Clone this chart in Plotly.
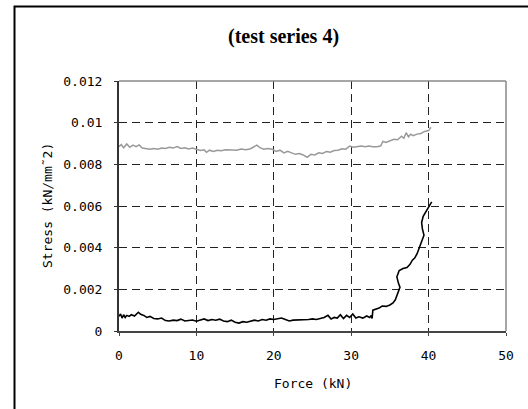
import plotly.graph_objects as go

# ---- data ----
force_gray = [0, 0.3, 0.6, 1.0, 1.4, 1.8, 2.2, 2.6, 3.0, 3.5, 4.0, 4.5, 5.0, 5.5, 6.0, 6.5, 7.0, 7.5, 8.0, 8.5,
              9.0, 9.5, 10.0, 10.5, 11.0, 11.3, 11.7, 12.2, 12.7, 13.2, 13.8, 14.5, 15.2, 15.8, 16.4, 17.0, 17.4,
              17.8, 18.2, 18.7, 19.2, 19.8, 20.3, 20.8, 21.3, 21.8, 22.3, 22.8, 23.3, 23.8, 24.3, 24.8, 25.3,
              25.8, 26.3, 26.8, 27.3, 27.8, 28.3, 28.8, 29.3, 29.8, 30.3, 30.8, 31.3, 31.8, 32.3, 32.8, 33.3,
              33.8, 34.1, 34.5, 35.0, 35.5, 36.0, 36.5, 36.8, 37.1, 37.4, 37.7, 38.0, 38.5, 39.0, 39.5, 40.0, 40.3]
stress_gray = [0.00885, 0.00895, 0.0088, 0.00898, 0.00882, 0.00892, 0.00885, 0.00893, 0.00878, 0.00874,
               0.00872, 0.00876, 0.00873, 0.00878, 0.00876, 0.00882, 0.00878, 0.00885, 0.00876, 0.0088,
               0.00874, 0.00878, 0.00873, 0.00866, 0.0087, 0.00858, 0.00868, 0.00862, 0.00868, 0.00865,
               0.0087, 0.0087, 0.00868, 0.00874, 0.0087, 0.00875, 0.00882, 0.00892, 0.0088, 0.00873,
               0.00876, 0.00872, 0.00862, 0.00868, 0.00855, 0.00862, 0.00855, 0.00848, 0.00852, 0.00845,
               0.00834, 0.00848, 0.00845, 0.00855, 0.00852, 0.00862, 0.00858, 0.00866, 0.00868, 0.00875,
               0.00873, 0.00888, 0.00882, 0.00885, 0.00888, 0.00884, 0.00888, 0.00885, 0.00884, 0.00888,
               0.0091, 0.00905, 0.00912, 0.0092, 0.00918, 0.00935, 0.00925, 0.00952, 0.00932, 0.00945,
               0.00938, 0.00945, 0.00948, 0.00958, 0.00962, 0.00978]

force_black = [0, 0.2, 0.4, 0.6, 0.8, 1.0, 1.3, 1.6, 2.0, 2.5, 2.8, 3.2, 3.6, 4.0, 4.5, 5.0, 5.5, 6.0, 6.5, 7.0,
               7.5, 8.0, 8.5, 9.0, 9.5, 10.0, 10.5, 11.0, 11.5, 12.0, 12.5, 13.0, 13.5, 14.0, 14.5, 15.0, 15.5,
               16.0, 16.5, 17.0, 17.5, 18.0, 18.5, 19.0, 19.5, 20.0, 20.5, 21.0, 21.5, 22.0, 22.5, 23.0, 23.5,
               24.0, 24.5, 25.0, 25.5, 26.0, 26.5, 27.0, 27.4, 27.8, 28.2, 28.6, 29.0, 29.4, 29.8, 30.2, 30.6,
               31.0, 31.5, 32.0, 32.4, 32.6, 32.7, 32.8, 33.2, 33.6, 34.0, 34.5, 35.0, 35.4, 35.7, 35.9, 36.1,
               36.3, 36.1, 35.9, 36.2, 36.7, 37.2, 37.6, 37.9, 38.2, 38.5, 38.8, 39.1, 39.4, 39.2, 39.1, 39.3,
               39.6, 39.9, 40.1, 40.4]
stress_black = [0.0007, 0.00082, 0.00062, 0.00078, 0.00065, 0.00075, 0.0007, 0.00078, 0.00072, 0.0009,
                0.0008, 0.00075, 0.00065, 0.0007, 0.0006, 0.00058, 0.00062, 0.0005, 0.00048, 0.00052,
                0.0005, 0.00057, 0.00048, 0.0005, 0.00053, 0.00047, 0.00052, 0.00058, 0.0005, 0.00055,
                0.00052, 0.00057, 0.00048, 0.00045, 0.00052, 0.00042, 0.00038, 0.00045, 0.00042, 0.00048,
                0.00052, 0.00048, 0.00055, 0.00052, 0.00058, 0.00055, 0.00058, 0.00062, 0.00055, 0.00048,
                0.00052, 0.00052, 0.00055, 0.00053, 0.00055, 0.00058, 0.00055, 0.0006, 0.00065, 0.00075,
                0.00058, 0.00065, 0.00062, 0.00078, 0.0006, 0.00075, 0.00065, 0.00082, 0.00062, 0.00068,
                0.00062, 0.00072, 0.00065, 0.00075, 0.0006, 0.001, 0.00105, 0.0011, 0.0012, 0.00118,
                0.00125, 0.00135, 0.0015, 0.0017, 0.0019, 0.0021, 0.0023, 0.0026, 0.0029, 0.0030,
                0.00305, 0.0032, 0.0034, 0.0035, 0.0037, 0.004, 0.0043, 0.0046, 0.0049, 0.0052,
                0.0055, 0.0057, 0.0059, 0.006, 0.0062]

x_ticks = [0, 10, 20, 30, 40, 50]
y_ticks = [0, 0.002, 0.004, 0.006, 0.008, 0.01, 0.012]
y_tick_labels = ["0", "0.002", "0.004", "0.006", "0.008", "0.01", "0.012"]

# ---- figure ----
W, H = 528, 409
L, R, T, B = 119, 22, 81, 78
pw = W - L - R
ph = H - T - B

fig = go.Figure()
fig.add_trace(go.Scatter(x=force_gray, y=stress_gray, mode="lines",
                         line=dict(color="#999999", width=1.5), showlegend=False))
fig.add_trace(go.Scatter(x=force_black, y=stress_black, mode="lines",
                         line=dict(color="#000000", width=1.6), showlegend=False))

tick_font = dict(family="DejaVu Sans Mono, monospace", size=13, color="#000")

fig.update_layout(
    width=W, height=H,
    margin=dict(l=L, r=R, t=T, b=B),
    paper_bgcolor="white", plot_bgcolor="white",
    showlegend=False,
    xaxis=dict(range=[0, 50], tickvals=x_ticks, ticktext=[str(v) for v in x_ticks],
               showgrid=True, gridcolor="#222", gridwidth=1, griddash="8px,5px",
               showline=True, linecolor="#444", linewidth=2, zeroline=False,
               ticks="outside", ticklen=3, tickcolor="#444", tickfont=tick_font,
               ticklabelstandoff=8),
    yaxis=dict(range=[0, 0.012], tickvals=y_ticks, ticktext=y_tick_labels,
               showgrid=True, gridcolor="#222", gridwidth=1, griddash="8px,5px",
               showline=True, linecolor="#333", linewidth=2, zeroline=False,
               ticks="outside", ticklen=3, tickcolor="#333", tickfont=tick_font,
               ticklabelstandoff=9),
)

# top and right plot border (gray)
fig.add_shape(type="line", xref="paper", yref="paper", x0=0, x1=1, y0=1, y1=1,
              line=dict(color="#888", width=1.5))
fig.add_shape(type="line", xref="paper", yref="paper", x0=1, x1=1, y0=0, y1=1,
              line=dict(color="#888", width=1.5))

# outer frame (extends past the right/bottom edges of the picture)
fx0 = (14.5 - L) / pw
fy1 = (H - B - 6.5) / ph
fig.add_shape(type="rect", xref="paper", yref="paper", x0=fx0, x1=2, y0=-1, y1=fy1,
              line=dict(color="#000", width=2), fillcolor="rgba(0,0,0,0)", layer="above")

# title
fig.add_annotation(text="<b>(test series 4)</b>", xref="paper", yref="paper",
                   x=(283.5 - L) / pw, y=(H - B - 36) / ph, showarrow=False,
                   xanchor="center", yanchor="middle",
                   font=dict(family="Liberation Serif, Times New Roman, serif", size=20, color="#000"))
# axis titles
fig.add_annotation(text="Force (kN)", xref="paper", yref="paper",
                   x=(312.5 - L) / pw, y=(H - B - 383) / ph, showarrow=False,
                   xanchor="center", yanchor="middle", font=tick_font)
fig.add_annotation(text="Stress (kN/mm˜2)", xref="paper", yref="paper",
                   x=(47 - L) / pw, y=(H - B - 206) / ph, showarrow=False, textangle=-90,
                   xanchor="center", yanchor="middle", font=tick_font)

fig.write_html("out.html", config={"displayModeBar": False},
               post_script="document.body.style.margin='0px';")
